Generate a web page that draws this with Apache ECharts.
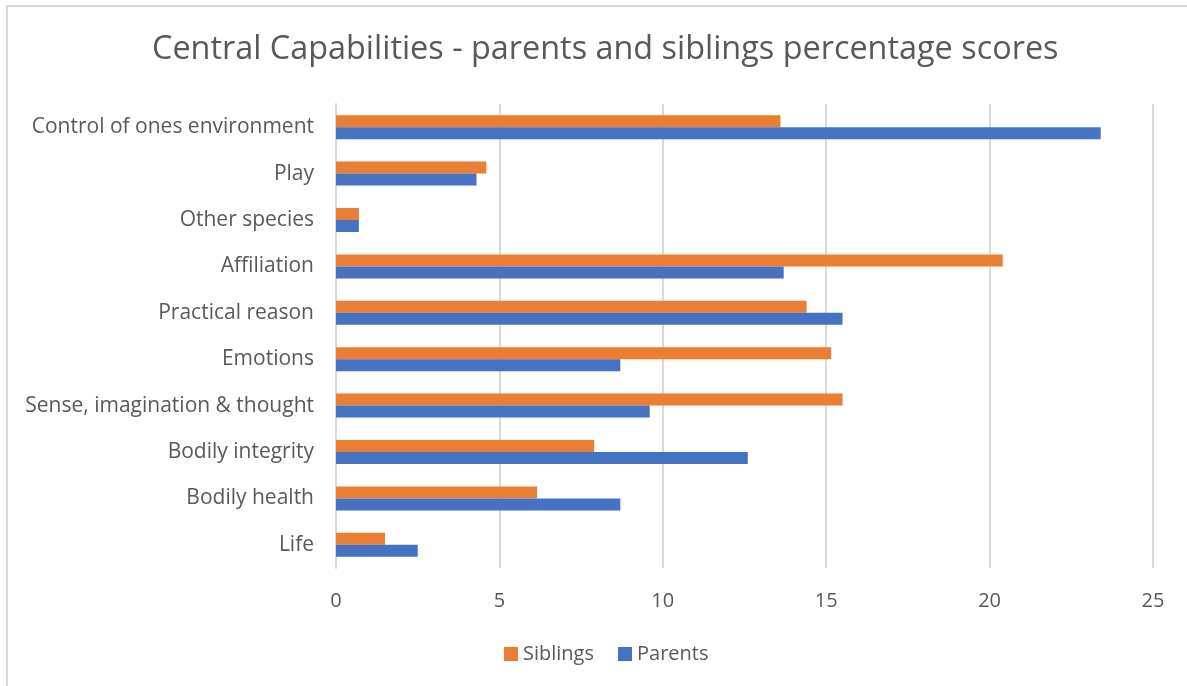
<!DOCTYPE html>
<html>
<head>
<meta charset="utf-8">
<script src="https://cdn.jsdelivr.net/npm/echarts@6/dist/echarts.min.js"></script>
<style>
html,body{margin:0;padding:0;background:#fff;}
#chart{width:1187px;height:686px;}
</style>
</head>
<body>
<div id="chart"></div>
<script>
// Categories listed bottom to top
const categories = ["Life", "Bodily health", "Bodily integrity", "Sense, imagination & thought", "Emotions", "Practical reason", "Affiliation", "Other species", "Play", "Control of ones environment"];
const siblings = [1.5, 6.15, 7.9, 15.5, 15.15, 14.4, 20.4, 0.7, 4.6, 13.6];
const parents = [2.5, 8.7, 12.6, 9.6, 8.7, 15.5, 13.7, 0.7, 4.3, 23.4];
const xTicks = [0, 5, 10, 15, 20, 25];

const FONT = "Open Sans";
const chart = echarts.init(document.getElementById('chart'), null, {renderer: 'canvas'});
chart.setOption({
  animation: false,
  backgroundColor: '#fff',
  graphic: [{
    type: 'rect', silent: true,
    shape: {x: 7, y: 6, width: 1300, height: 800},
    style: {fill: 'none', stroke: '#d9d9d9', lineWidth: 2}
  }],
  title: {
    text: 'Central Capabilities - parents and siblings percentage scores',
    left: 147, top: 29,
    textStyle: {fontFamily: FONT, fontSize: 32.4, fontWeight: 'normal', color: '#595959'}
  },
  legend: {
    data: ['Siblings', 'Parents'],
    bottom: 17, left: 499,
    itemWidth: 14, itemHeight: 14, itemGap: 24,
    icon: 'rect',
    textStyle: {fontFamily: FONT, fontSize: 20, color: '#595959'}
  },
  grid: {left: 336, right: 34, top: 104, bottom: 118, containLabel: false},
  xAxis: {
    type: 'value', min: xTicks[0], max: xTicks[xTicks.length - 1], interval: 5,
    axisLine: {show: false}, axisTick: {show: false},
    axisLabel: {fontFamily: FONT, fontSize: 20, color: '#595959', margin: 23},
    splitLine: {lineStyle: {color: '#d9d9d9', width: 2}}
  },
  yAxis: {
    type: 'category', data: categories,
    axisLine: {show: true, lineStyle: {color: '#d9d9d9', width: 2}},
    axisTick: {show: false},
    axisLabel: {fontFamily: FONT, fontSize: 21, color: '#595959', margin: 22, padding: [4, 0, 0, 0]}
  },
  series: [
    {name: 'Siblings', type: 'bar', data: siblings, barWidth: 12, barGap: '0%',
     itemStyle: {color: '#ED7D31'}},
    {name: 'Parents', type: 'bar', data: parents, barWidth: 12, barGap: '0%',
     itemStyle: {color: '#4472C4'}}
  ]
});
</script>
</body>
</html>
